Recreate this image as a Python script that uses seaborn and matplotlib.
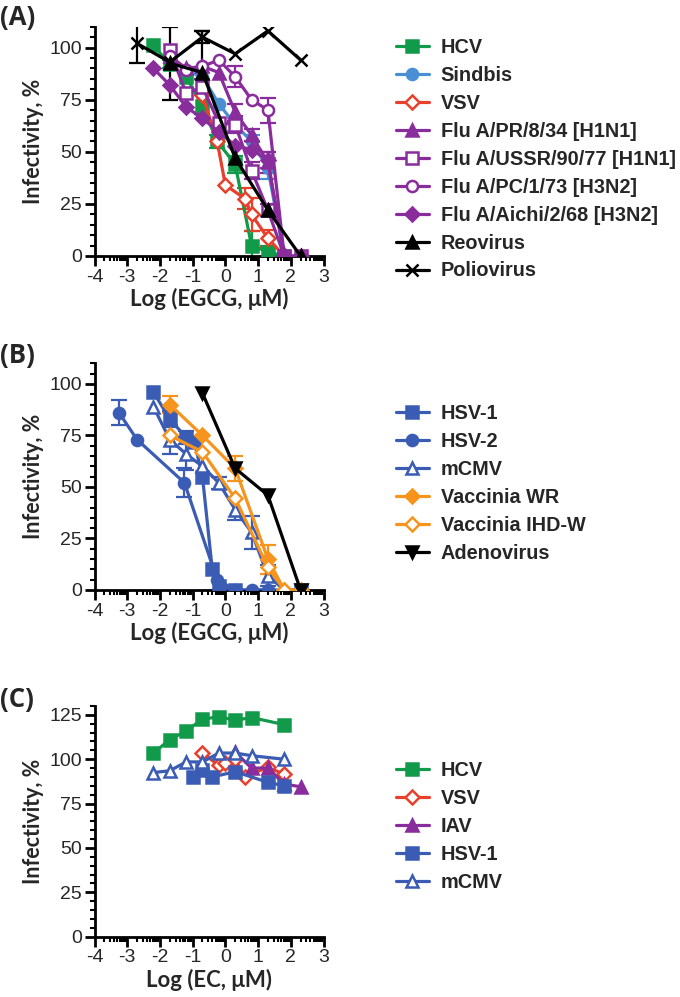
import numpy as np
import pandas as pd
import matplotlib
matplotlib.use('Agg')
import matplotlib.pyplot as plt
import seaborn as sns

# ---------------- datos panel A (EGCG, virus con envoltura / sin envoltura)
hcv_x = [-2.2, -1.7, -1.2, -0.7, -0.25, 0.3, 0.8, 1.3, 1.8]
hcv_y = [101, 92, 86, 72, 55, 44, 5, 2, 0]
hcv_e = [0, 2, 0, 0, 3, 4, 7, 3, 0]

sin_x = [-1.7, -1.2, -0.7, -0.2, 0.3, 0.8, 1.3, 1.8]
sin_y = [95, 89, 86, 73, 63, 55, 42, 0]
sin_e = [0, 0, 0, 0, 3, 3, 5, 0]

vsv_x = [-0.7, -0.25, 0.0, 0.6, 0.8, 1.3, 1.8]
vsv_y = [77, 55, 34, 27.5, 20, 8.5, 0]
vsv_e = [0, 0, 0, 5, 8, 4, 0]

pr8_x = [-1.7, -1.2, -0.7, -0.2, 0.3, 0.8, 1.3, 1.8]
pr8_y = [96, 90, 91, 88, 69, 58, 45, 1]
pr8_e = [0, 0, 0, 0, 4, 3, 5, 0]

ussr_x = [-1.7, -1.2, -0.7, -0.2, 0.3, 0.8, 1.3, 1.8, 2.3]
ussr_y = [99, 78, 81, 64, 63, 41, 22, 0, 0]
ussr_e = [0, 0, 4, 0, 4, 4, 3, 0, 0]

pc_x = [-1.7, -1.2, -0.7, -0.2, 0.3, 0.8, 1.3, 1.8]
pc_y = [96, 89, 91, 94, 86, 75, 70, 0]
pc_e = [0, 0, 0, 0, 5, 0, 6, 0]

aichi_x = [-2.2, -1.7, -1.2, -0.7, -0.2, 0.3, 0.8, 1.3, 1.8, 2.3]
aichi_y = [90, 82, 71.5, 66, 59.5, 53, 51, 46, 0, 0]
aichi_e = [0, 0, 0, 0, 0, 0, 0, 4, 0, 0]

reo_x = [-1.7, -0.7, 0.3, 1.3, 2.3]
reo_y = [92.5, 88, 47, 22, 0]
reo_e = [17.5, 20, 0, 0, 0]

polio_x = [-2.7, -1.7, -0.7, 0.3, 1.3, 2.3]
polio_y = [102, 93, 105, 97, 108, 94]
polio_e = [9.5, 0, 3, 0, 0, 0]

# ---------------- datos panel B
hsv1_x = [-2.2, -1.7, -1.2, -0.95, -0.7, -0.4, -0.2, 0.3, 2.3]
hsv1_y = [96, 83, 74, 72, 55, 10, 2, 0, 0]
hsv1_e = [0, 4, 3, 0, 0, 0, 0, 0, 0]

hsv2_x = [-3.25, -2.7, -1.25, -0.25, 0.3, 0.8, 1.3]
hsv2_y = [86, 73, 52, 5, 0, 0, 0]
hsv2_e = [6, 0, 7, 0, 0, 0, 0]

mcmv_x = [-2.2, -1.7, -1.2, -0.7, -0.2, 0.3, 0.8, 1.3, 1.8, 2.3]
mcmv_y = [89, 73, 66, 60, 52, 39, 28, 7, 0, 0]
mcmv_e = [0, 7, 8, 0, 3, 5, 8, 5, 0, 0]

wr_x = [-1.7, -0.7, 0.3, 1.3, 1.8]
wr_y = [90, 75, 59, 15, 0]
wr_e = [4, 0, 6, 7, 0]

ihd_x = [-1.7, -0.7, 0.3, 1.3, 1.8, 2.3]
ihd_y = [75, 67, 44.5, 11, 0, 0]
ihd_e = [0, 0, 0, 0, 0, 0]

adeno_x = [-0.7, 0.3, 1.3, 2.3]
adeno_y = [95.5, 59, 46, 0]
adeno_e = [0, 0, 0, 0]

# ---------------- datos panel C (EC)
c_hcv_x = [-2.2, -1.7, -1.2, -0.7, -0.2, 0.3, 0.8, 1.8]
c_hcv_y = [103.5, 111, 116, 122.5, 124, 122, 123.5, 119.5]

c_vsv_x = [-0.7, -0.2, 0.0, 0.3, 0.6, 1.3, 1.8]
c_vsv_y = [103.5, 96.5, 98, 100, 90, 95.5, 91.5]

c_iav_x = [0.3, 0.8, 1.3, 1.8, 2.3]
c_iav_y = [104, 95, 95, 86, 84.5]

c_hsv1_x = [-1.0, -0.7, -0.4, 0.3, 1.3, 1.8]
c_hsv1_y = [90, 94, 90, 93, 87, 85]

c_mcmv_x = [-2.2, -1.7, -1.2, -0.7, -0.2, 0.3, 0.8, 1.8]
c_mcmv_y = [92.5, 93.5, 98.5, 98.5, 103.5, 103.5, 102, 100]

#colores
GREEN = '#109a4a'
LBLUE = '#4a8fd4'
RED = '#e8402c'
PURPLE = '#8a2d9c'
BLUE = '#3b5cb4'
ORANGE = '#f7941d'
BLACK = 'black'

sns.set_theme(style='ticks')
plt.rcParams['font.family'] = ['Liberation Sans', 'DejaVu Sans']

fig = plt.figure(figsize=(6.8, 9.97), dpi=100)
W, H = 680.0, 997.0


def make_ax(left, right, top, bottom):
    return fig.add_axes([left / W, 1 - bottom / H, (right - left) / W, (bottom - top) / H])


def serie(ax, x, y, e, color, marker, label, filled=True, ms=8):
    df = pd.DataFrame({'x': x, 'y': y})
    fc = color if filled else 'white'
    sns.lineplot(data=df, x='x', y='y', ax=ax, color=color, lw=2.3, marker=marker,
                 markersize=ms, markerfacecolor=fc, markeredgecolor=color,
                 markeredgewidth=1.8, label=label, errorbar=None, sort=False, zorder=3)
    if e is not None and any(v > 0 for v in e):
        ee = np.array(e, dtype=float)
        msk = ee > 0
        ax.errorbar(np.array(x)[msk], np.array(y)[msk], yerr=ee[msk], fmt='none',
                    ecolor=color, elinewidth=1.6, capsize=6, capthick=1.6, zorder=2)


def style_ax(ax, ymax, yminor, xlabel):
    ax.set_xlim(-4, 3)
    ax.set_ylim(0, ymax)
    ax.set_xticks(np.arange(-4, 4, 1))
    ax.set_xticklabels([str(v) for v in range(-4, 4)])
    minors = [d + np.log10(k) for d in range(-4, 3) for k in range(2, 10)]
    ax.set_xticks(minors, minor=True)
    ax.set_yticks(np.arange(0, ymax, 25))
    ax.set_yticks(np.arange(0, ymax + 0.1, yminor), minor=True)
    for s in ['top', 'right']:
        ax.spines[s].set_visible(False)
    for s in ['left', 'bottom']:
        ax.spines[s].set_linewidth(2)
        ax.spines[s].set_color('black')
    ax.tick_params(which='major', length=7, width=2, labelsize=14, pad=2, color='black')
    ax.tick_params(which='minor', length=3.5, width=1.5, color='black')
    ax.set_xlabel(xlabel, fontsize=16, fontweight='bold', family=['Lato', 'DejaVu Sans'], labelpad=2)
    ax.set_ylabel('Infectivity, %', fontsize=15.5, fontweight='bold', family=['Lato', 'DejaVu Sans'], labelpad=4)
    ax.set_facecolor('white')


def leyenda(ax, top):
    ax.legend(loc='upper left', bbox_to_anchor=(396 / W, 1 - top / H), bbox_transform=fig.transFigure,
              frameon=False, borderaxespad=0, borderpad=0, handlelength=1.65, handletextpad=0.6,
              labelspacing=0.45, prop={'family': 'Liberation Sans', 'weight': 'bold', 'size': 14.3})


# ---------------- (A)
axA = make_ax(94.5, 323.5, 26.7, 256)
serie(axA, hcv_x, hcv_y, hcv_e, GREEN, 's', 'HCV')
serie(axA, sin_x, sin_y, sin_e, LBLUE, 'o', 'Sindbis')
serie(axA, vsv_x, vsv_y, vsv_e, RED, 'D', 'VSV', filled=False, ms=7)
serie(axA, pr8_x, pr8_y, pr8_e, PURPLE, '^', 'Flu A/PR/8/34 [H1N1]')
serie(axA, ussr_x, ussr_y, ussr_e, PURPLE, 's', 'Flu A/USSR/90/77 [H1N1]', filled=False)
serie(axA, pc_x, pc_y, pc_e, PURPLE, 'o', 'Flu A/PC/1/73 [H3N2]', filled=False)
serie(axA, aichi_x, aichi_y, aichi_e, PURPLE, 'D', 'Flu A/Aichi/2/68 [H3N2]', ms=7)
serie(axA, reo_x, reo_y, reo_e, BLACK, '^', 'Reovirus')
serie(axA, polio_x, polio_y, polio_e, BLACK, 'x', 'Poliovirus')
style_ax(axA, 110, 5, 'Log (EGCG, μM)')
leyenda(axA, 38)

# ---------------- (B)
axB = make_ax(94.5, 323.5, 363.3, 590)
serie(axB, hsv1_x, hsv1_y, hsv1_e, BLUE, 's', 'HSV-1')
serie(axB, hsv2_x, hsv2_y, hsv2_e, BLUE, 'o', 'HSV-2')
serie(axB, mcmv_x, mcmv_y, mcmv_e, BLUE, '^', 'mCMV', filled=False)
serie(axB, wr_x, wr_y, wr_e, ORANGE, 'D', 'Vaccinia WR', ms=7)
serie(axB, ihd_x, ihd_y, ihd_e, ORANGE, 'D', 'Vaccinia IHD-W', filled=False, ms=7)
serie(axB, adeno_x, adeno_y, adeno_e, BLACK, 'v', 'Adenovirus')
style_ax(axB, 110, 5, 'Log (EGCG, μM)')
leyenda(axB, 404)

# ---------------- (C)
axC = make_ax(94.5, 323.5, 706, 936.7)
serie(axC, c_hcv_x, c_hcv_y, None, GREEN, 's', 'HCV', ms=9)
serie(axC, c_vsv_x, c_vsv_y, None, RED, 'D', 'VSV', filled=False, ms=7)
serie(axC, c_iav_x, c_iav_y, None, PURPLE, '^', 'IAV', ms=9)
serie(axC, c_hsv1_x, c_hsv1_y, None, BLUE, 's', 'HSV-1', ms=9)
serie(axC, c_mcmv_x, c_mcmv_y, None, BLUE, '^', 'mCMV', filled=False, ms=9)
style_ax(axC, 130, 5, 'Log (EC, μM)')
leyenda(axC, 761)

# etiquetas de panel
for lab, yy in [('(A)', 17), ('(B)', 356), ('(C)', 700)]:
    fig.text(0.0 / W, 1 - yy / H, lab, fontsize=18.5, fontweight='bold', va='center', ha='left',
             family=['Open Sans', 'DejaVu Sans'])

fig.patch.set_facecolor('white')
fig.savefig('out.png', dpi=100, facecolor='white')
